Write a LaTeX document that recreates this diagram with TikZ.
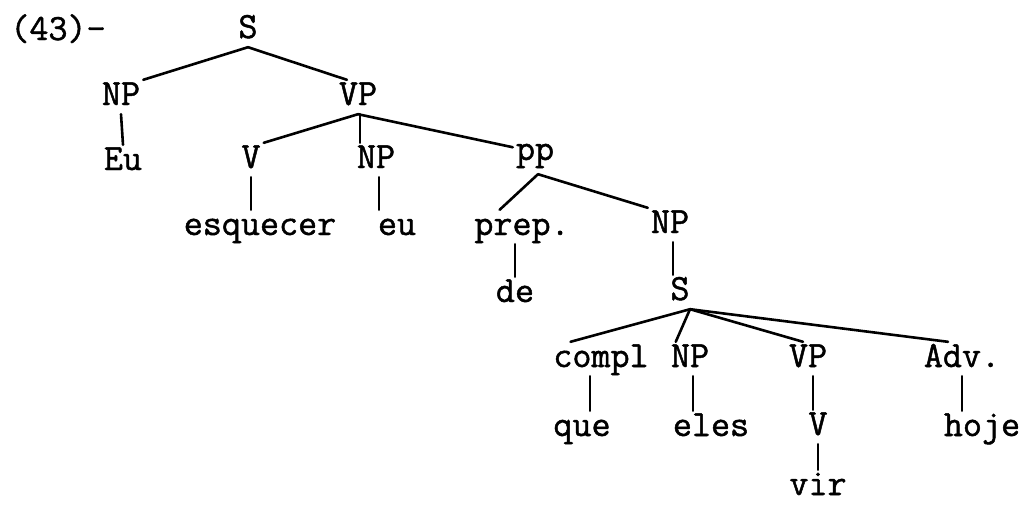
\documentclass[tikz,border=0pt]{standalone}
\usepackage{fontspec}
\usetikzlibrary{calc}
\newfontfamily\typewriter{Latin Modern Mono}[FakeBold=1.3]
\begin{document}
\begin{tikzpicture}[x=1pt,y=-1pt,
  cat/.style={font=\fontsize{37}{42}\selectfont\typewriter, inner sep=3pt,
              text height=22pt, text depth=6pt, anchor=base},
  branch/.style={line width=2.6pt, line cap=round}]
\useasboundingbox (0,0) rectangle (1024,504);

% example number
\node[cat] (ex) at (58,40) {(43)-};

% top clause
\node[cat] (s1)  at (248,38)  {S};
\node[cat] (np1) at (121,105) {NP};
\node[cat] (vp1) at (358,105) {VP};
\node[cat] (eu1) at (123,170) {Eu};
\node[cat] (v1)  at (251,168) {V};
\node[cat] (np2) at (376,168) {NP};
\node[cat] (pp)  at (535,160) {pp};
\node[cat] (esq) at (260,235) {esquecer};
\node[cat] (eu2) at (397,235) {eu};
\node[cat] (prep) at (522,235) {prep.};
\node[cat] (np3) at (670,233) {NP};
\node[cat] (de)  at (515,302) {de};

% embedded clause
\node[cat] (s2)   at (680,300) {S};
\node[cat] (comp) at (601,367) {compl};
\node[cat] (np4)  at (690,367) {NP};
\node[cat] (vp4)  at (808,367) {VP};
\node[cat] (adv)  at (962,367) {Adv.};
\node[cat] (que)  at (582,436) {que};
\node[cat] (eles) at (711,436) {eles};
\node[cat] (v4)   at (818,435) {V};
\node[cat] (hoje) at (982,436) {hoje};
\node[cat] (vir)  at (818,495) {vir};

% fork point below the descenders of "pp"
\coordinate (ppfork) at ([xshift=3pt,yshift=-5pt]pp.south);

% branches
\draw[branch] (s1.south) -- (np1.north east);
\draw[branch] (s1.south) -- ($(vp1.north west)!0.25!(vp1.north east)$);
\draw[branch] (np1.south) -- (eu1.north);

\draw[branch] (vp1.south) -- (v1.north east);
\draw[branch] ([xshift=2pt]vp1.south) -- ([xshift=2pt]vp1.south |- np2.north);
\draw[branch] (vp1.south) -- (pp);
\draw[branch] (v1.south) -- (v1.south |- esq.north);
\draw[branch] ([xshift=3pt]np2.south) -- ([xshift=3pt]np2.south |- eu2.north);

\draw[branch] (ppfork) -- ($(prep.north west)!0.28!(prep.north east)$);
\draw[branch] (ppfork) -- (np3.north west);
\draw[branch] (de.north |- prep.south) -- (de.north);
\draw[branch] ([xshift=3pt]np3.south) -- ([xshift=3pt]np3.south |- s2.north);

\draw[branch] ([xshift=10pt]s2.south) -- ($(comp.north west)!0.2!(comp.north east)$);
\draw[branch] ([xshift=10pt]s2.south) -- ([xshift=8pt]np4.north west);
\draw[branch] ([xshift=10pt]s2.south) -- ([xshift=-5pt]vp4.north);
\draw[branch] ([xshift=10pt]s2.south) -- ([xshift=-14pt]adv.north);

\draw[branch] ([xshift=8pt]que.north |- comp.south) -- ([xshift=8pt]que.north);
\draw[branch] ([xshift=3pt]np4.south) -- ([xshift=3pt]np4.south |- eles.north);
\draw[branch] ([xshift=-5pt]vp4.south -| v4.north) -- ([xshift=-5pt]v4.north);
\draw[branch] (adv.south) -- (adv.south |- hoje.north);
\draw[branch] (v4.south) -- (vir.north);
\end{tikzpicture}
\end{document}
